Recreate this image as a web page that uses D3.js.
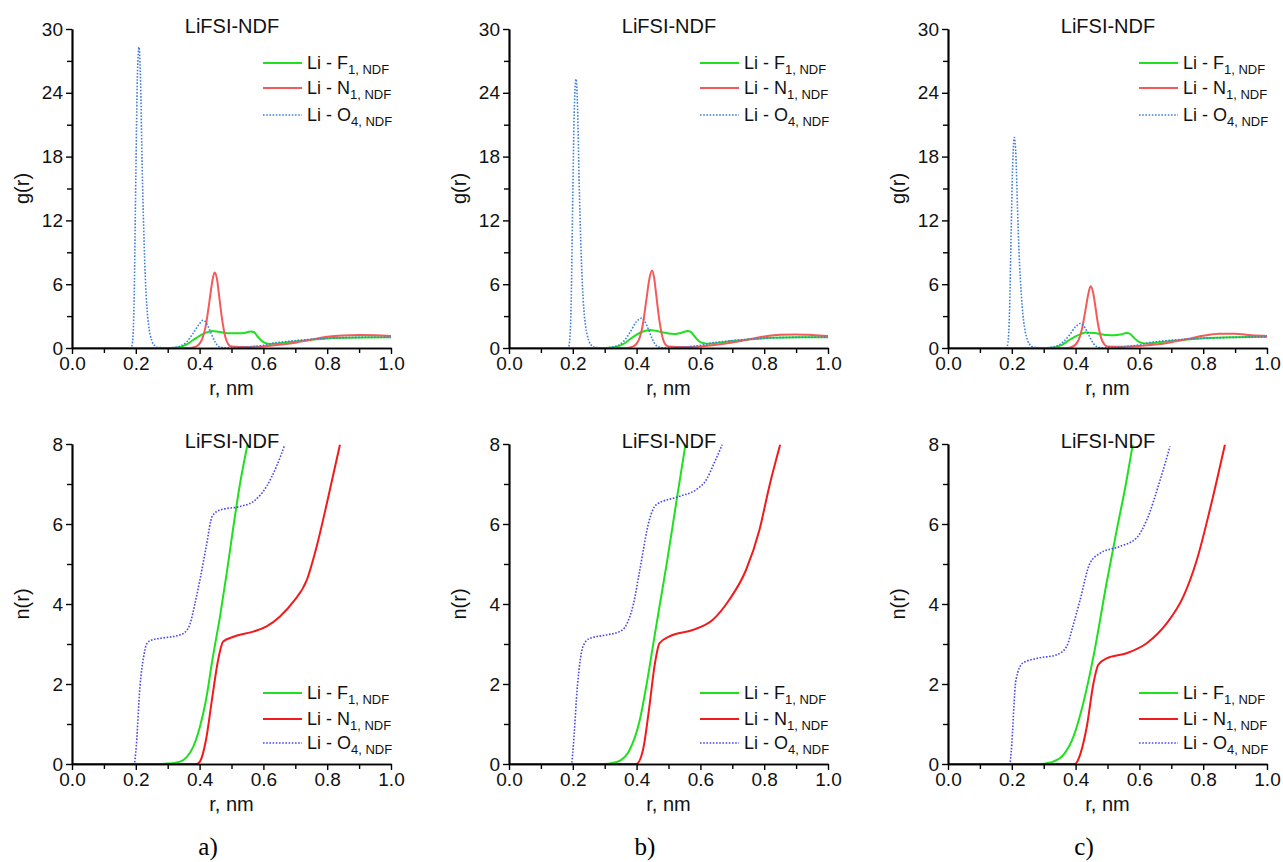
<!DOCTYPE html>
<html>
<head>
<meta charset="utf-8">
<script src="https://cdn.jsdelivr.net/npm/d3@7"></script>
<style>
  body { margin: 0; background: #fff; }
  svg { display: block; font-family: "Liberation Sans", Arial, sans-serif; }
</style>
</head>
<body>
<svg id="chart"></svg>
<script>
const svg = d3.select("#chart");
const width = 1283;
const height = 862;
svg.attr("width", width).attr("height", height);

// ticks
const xTicks = [0, 0.2, 0.4, 0.6, 0.8, 1.0];
const xMinor = [0.1, 0.3, 0.5, 0.7, 0.9];
const gTicks = [0, 6, 12, 18, 24, 30];
const gMinor = [3, 9, 15, 21, 27];
const nTicks = [0, 2, 4, 6, 8];
const nMinor = [1, 3, 5, 7];
const panelNames = ["a)", "b)", "c)"];
const seriesNames = ["F", "N", "O"];
const seriesSubs = ["1, NDF", "1, NDF", "4, NDF"];

// g(r) - panel a
const gA_F = [[0,0],[0.3,0],[0.33,0.05],[0.36,0.35],[0.38,0.75],[0.4,1.15],[0.42,1.45],[0.44,1.6],[0.46,1.52],[0.48,1.42],[0.5,1.38],[0.52,1.38],[0.54,1.42],[0.56,1.56],[0.57,1.5],[0.58,1.15],[0.6,0.55],[0.62,0.38],[0.65,0.45],[0.7,0.62],[0.75,0.78],[0.8,0.9],[0.9,0.98],[1.0,1.0]];
const gA_N = [[0,0],[0.37,0],[0.39,0.15],[0.41,1.0],[0.42,2.2],[0.43,4.2],[0.44,6.3],[0.447,7.1],[0.455,6.4],[0.46,5.2],[0.47,2.8],[0.48,1.1],[0.49,0.35],[0.5,0.15],[0.55,0.1],[0.6,0.15],[0.65,0.3],[0.7,0.5],[0.75,0.78],[0.8,1.05],[0.85,1.18],[0.9,1.22],[0.95,1.2],[1.0,1.12]];
const gA_O = [[0,0],[0.185,0],[0.19,0.6],[0.195,5],[0.2,16],[0.205,25.5],[0.21,28.3],[0.215,25],[0.22,17],[0.225,11],[0.23,6.5],[0.235,3.8],[0.24,2.2],[0.25,0.7],[0.26,0.2],[0.27,0.05],[0.3,0.02],[0.33,0.1],[0.36,0.6],[0.38,1.4],[0.4,2.3],[0.41,2.6],[0.42,2.4],[0.43,1.8],[0.44,1.1],[0.45,0.5],[0.46,0.15],[0.48,0.03],[0.52,0.05],[0.56,0.12],[0.6,0.25],[0.63,0.45],[0.67,0.6],[0.72,0.75],[0.8,0.92],[0.9,1.0],[1.0,1.02]];

// g(r) - panel b
const gB_F = [[0,0],[0.3,0],[0.33,0.06],[0.36,0.4],[0.38,0.85],[0.4,1.25],[0.42,1.55],[0.44,1.7],[0.46,1.62],[0.48,1.48],[0.5,1.36],[0.52,1.32],[0.54,1.42],[0.56,1.6],[0.57,1.52],[0.58,1.15],[0.6,0.55],[0.62,0.4],[0.65,0.48],[0.7,0.65],[0.75,0.8],[0.8,0.92],[0.9,1.0],[1.0,1.02]];
const gB_N = [[0,0],[0.37,0],[0.39,0.15],[0.41,1.0],[0.42,2.3],[0.43,4.4],[0.44,6.5],[0.448,7.3],[0.455,6.6],[0.46,5.4],[0.47,2.9],[0.48,1.15],[0.49,0.35],[0.5,0.15],[0.55,0.1],[0.6,0.15],[0.65,0.3],[0.7,0.52],[0.75,0.8],[0.8,1.08],[0.85,1.25],[0.9,1.28],[0.95,1.22],[1.0,1.13]];
const gB_O = [[0,0],[0.185,0],[0.19,0.6],[0.195,4.5],[0.2,14.5],[0.205,22.8],[0.21,25.3],[0.215,22.5],[0.22,15.5],[0.225,10],[0.23,6],[0.235,3.5],[0.24,2.1],[0.25,0.7],[0.26,0.2],[0.27,0.05],[0.3,0.02],[0.33,0.12],[0.36,0.65],[0.38,1.5],[0.4,2.5],[0.415,2.8],[0.425,2.55],[0.435,1.9],[0.445,1.15],[0.455,0.5],[0.465,0.15],[0.48,0.03],[0.52,0.05],[0.56,0.12],[0.6,0.25],[0.63,0.45],[0.67,0.6],[0.72,0.75],[0.8,0.92],[0.9,1.0],[1.0,1.02]];

// g(r) - panel c
const gC_F = [[0,0],[0.3,0],[0.33,0.05],[0.36,0.35],[0.38,0.75],[0.4,1.1],[0.42,1.35],[0.43,1.45],[0.46,1.4],[0.48,1.3],[0.5,1.22],[0.52,1.2],[0.54,1.26],[0.56,1.4],[0.57,1.35],[0.58,1.05],[0.6,0.55],[0.62,0.42],[0.65,0.5],[0.7,0.65],[0.75,0.8],[0.8,0.92],[0.9,1.02],[1.0,1.05]];
const gC_N = [[0,0],[0.37,0],[0.39,0.12],[0.41,0.8],[0.42,1.8],[0.43,3.4],[0.44,5.1],[0.447,5.8],[0.455,5.2],[0.46,4.3],[0.47,2.3],[0.48,0.95],[0.49,0.35],[0.5,0.15],[0.55,0.12],[0.6,0.18],[0.65,0.32],[0.7,0.55],[0.75,0.85],[0.8,1.15],[0.85,1.35],[0.9,1.33],[0.95,1.2],[1.0,1.13]];
const gC_O = [[0,0],[0.183,0],[0.188,0.5],[0.193,3.5],[0.198,11],[0.203,17.5],[0.208,19.8],[0.213,18],[0.218,13],[0.223,8.8],[0.23,5],[0.235,3.1],[0.24,1.9],[0.25,0.7],[0.26,0.2],[0.27,0.06],[0.3,0.02],[0.33,0.1],[0.36,0.55],[0.38,1.2],[0.4,2.0],[0.415,2.3],[0.425,2.1],[0.435,1.6],[0.445,1.0],[0.455,0.45],[0.465,0.15],[0.48,0.03],[0.52,0.05],[0.56,0.15],[0.6,0.3],[0.63,0.5],[0.67,0.65],[0.72,0.78],[0.8,0.92],[0.9,1.0],[1.0,1.05]];

// n(r) - panel a
const nA_F = [[0.28,0],[0.3,0.01],[0.339,0.06],[0.36,0.18],[0.38,0.43],[0.401,0.93],[0.42,1.6],[0.44,2.6],[0.464,3.69],[0.485,4.77],[0.506,5.94],[0.527,7.02],[0.55,7.98]];
const nA_N = [[0,0],[0.39,0],[0.401,0.06],[0.42,0.6],[0.44,1.68],[0.458,2.6],[0.474,3.06],[0.506,3.18],[0.568,3.31],[0.61,3.44],[0.652,3.69],[0.694,4.06],[0.736,4.6],[0.767,5.44],[0.799,6.52],[0.82,7.27],[0.84,7.98]];
const nA_O = [[0,0],[0.195,0],[0.2,0.3],[0.213,1.93],[0.225,2.7],[0.234,3.0],[0.25,3.1],[0.276,3.14],[0.339,3.23],[0.355,3.3],[0.37,3.5],[0.385,4.0],[0.401,4.6],[0.42,5.4],[0.44,6.2],[0.464,6.35],[0.527,6.44],[0.568,6.56],[0.61,6.94],[0.641,7.44],[0.667,7.98]];

// n(r) - panel b
const nB_F = [[0.3,0],[0.32,0.02],[0.347,0.08],[0.378,0.35],[0.41,1.1],[0.43,1.93],[0.451,2.94],[0.472,3.95],[0.493,4.94],[0.524,6.52],[0.553,7.98]];
const nB_N = [[0,0],[0.399,0],[0.42,0.35],[0.44,1.43],[0.456,2.44],[0.472,3.02],[0.503,3.19],[0.576,3.35],[0.638,3.6],[0.69,4.1],[0.743,4.85],[0.785,5.85],[0.816,6.94],[0.85,7.98]];
const nB_O = [[0,0],[0.196,0],[0.2,0.3],[0.215,2.0],[0.232,2.94],[0.253,3.14],[0.3,3.22],[0.347,3.31],[0.368,3.48],[0.39,4.0],[0.41,4.85],[0.44,6.1],[0.461,6.48],[0.534,6.69],[0.587,6.86],[0.618,7.1],[0.643,7.52],[0.668,7.98]];

// n(r) - panel c
const nC_F = [[0.29,0],[0.31,0.02],[0.33,0.06],[0.362,0.23],[0.393,0.68],[0.424,1.52],[0.456,2.69],[0.497,4.52],[0.529,5.85],[0.56,7.1],[0.579,7.98]];
const nC_N = [[0,0],[0.398,0],[0.414,0.23],[0.435,0.93],[0.456,2.02],[0.471,2.48],[0.497,2.64],[0.56,2.77],[0.623,3.02],[0.686,3.52],[0.738,4.19],[0.78,5.1],[0.821,6.36],[0.868,7.98]];
const nC_O = [[0,0],[0.194,0],[0.198,0.3],[0.213,2.1],[0.234,2.52],[0.278,2.64],[0.341,2.73],[0.372,2.94],[0.39,3.4],[0.414,4.1],[0.445,5.02],[0.477,5.27],[0.539,5.44],[0.591,5.65],[0.623,6.1],[0.665,7.1],[0.696,7.94]];

const gData = [[gA_F, gA_N, gA_O], [gB_F, gB_N, gB_O], [gC_F, gC_N, gC_O]];
const nData = [[nA_F, nA_N, nA_O], [nB_F, nB_N, nB_O], [nC_F, nC_N, nC_O]];

const panelLeft = [72, 509, 948];
const panelW = 319;
const topColors = ["#1ee01e", "#f55a5a", "#3f7fe0"];
const botColors = ["#1ee01e", "#f21a1a", "#4848f0"];

// Dessine un panneau
function drawPanel(left, top, bottom, yMax, yTicks, yMinor, yLabel, data, colors, legendY) {
    const x = d3.scaleLinear().domain([0, 1]).range([left, left + panelW]);
    const y = d3.scaleLinear().domain([0, yMax]).range([bottom, top]);
    const g = svg.append("g");

    const line = d3.line()
        .x(d => x(d[0]))
        .y(d => y(d[1]))
        .curve(d3.curveMonotoneX);

    // courbes
    data.forEach((series, i) => {
        g.append("path")
            .datum(series)
            .attr("d", line)
            .attr("fill", "none")
            .attr("stroke", colors[i])
            .attr("stroke-width", i === 2 ? 1.6 : 2)
            .attr("stroke-dasharray", i === 2 ? "1.6,1.6" : null);
    });

    // axes (minor puis major)
    const xAxisMinor = d3.axisBottom(x).tickValues(xMinor).tickSize(5).tickFormat("").tickSizeOuter(0);
    const xAxis = d3.axisBottom(x).tickValues(xTicks).tickSize(6).tickPadding(3).tickSizeOuter(0).tickFormat(d3.format(".1f"));
    const yAxisMinor = d3.axisLeft(y).tickValues(yMinor).tickSize(5).tickFormat("").tickSizeOuter(0);
    const yAxis = d3.axisLeft(y).tickValues(yTicks).tickSize(6).tickPadding(3).tickSizeOuter(0);

    [xAxisMinor, xAxis].forEach(ax => {
        g.append("g").attr("transform", `translate(0,${bottom})`).call(ax);
    });
    [yAxisMinor, yAxis].forEach(ax => {
        g.append("g").attr("transform", `translate(${left},0)`).call(ax);
    });
    g.selectAll(".domain").attr("stroke", "#000").attr("stroke-width", 1.7);
    g.selectAll(".tick line").attr("stroke", "#000").attr("stroke-width", 1.4);
    g.selectAll(".tick text")
        .attr("font-size", 19)
        .attr("font-family", "'Liberation Sans', Arial, sans-serif")
        .attr("fill", "#111");

    // titres d'axes
    g.append("text")
        .attr("x", left + panelW / 2)
        .attr("y", bottom + 47)
        .attr("text-anchor", "middle")
        .attr("font-size", 20)
        .attr("fill", "#111")
        .text("r, nm");
    g.append("text")
        .attr("transform", `translate(${left - 43},${(top + bottom) / 2}) rotate(-90)`)
        .attr("text-anchor", "middle")
        .attr("font-size", 20)
        .attr("fill", "#111")
        .text(yLabel);

    // titre
    g.append("text")
        .attr("x", left + 160)
        .attr("y", top + 4)
        .attr("text-anchor", "middle")
        .attr("font-size", 20)
        .attr("fill", "#111")
        .text("LiFSI-NDF");

    // légende
    legendY.forEach((ly, i) => {
        g.append("line")
            .attr("x1", left + 191).attr("x2", left + 230)
            .attr("y1", ly).attr("y2", ly)
            .attr("stroke", colors[i])
            .attr("stroke-width", i === 2 ? 1.6 : 2.2)
            .attr("stroke-dasharray", i === 2 ? "1.6,1.6" : null);
        const t = g.append("text")
            .attr("x", left + 235)
            .attr("y", ly + 6)
            .attr("font-size", 18)
            .attr("fill", "#111");
        t.append("tspan").text("Li - " + seriesNames[i]);
        t.append("tspan").attr("font-size", 13).attr("dy", 5).text(seriesSubs[i]);
    });
}

panelLeft.forEach((left, p) => {
    drawPanel(left, 29, 348, 30, gTicks, gMinor, "g(r)", gData[p], topColors, [63, 88, 115]);
    drawPanel(left, 444, 764, 8, nTicks, nMinor, "n(r)", nData[p], botColors, [693, 719, 743]);

    svg.append("text")
        .attr("x", left + 136)
        .attr("y", 855)
        .attr("text-anchor", "middle")
        .attr("font-family", "'Liberation Serif', 'Times New Roman', serif")
        .attr("font-size", 25)
        .text(panelNames[p]);
});
</script>
</body>
</html>
